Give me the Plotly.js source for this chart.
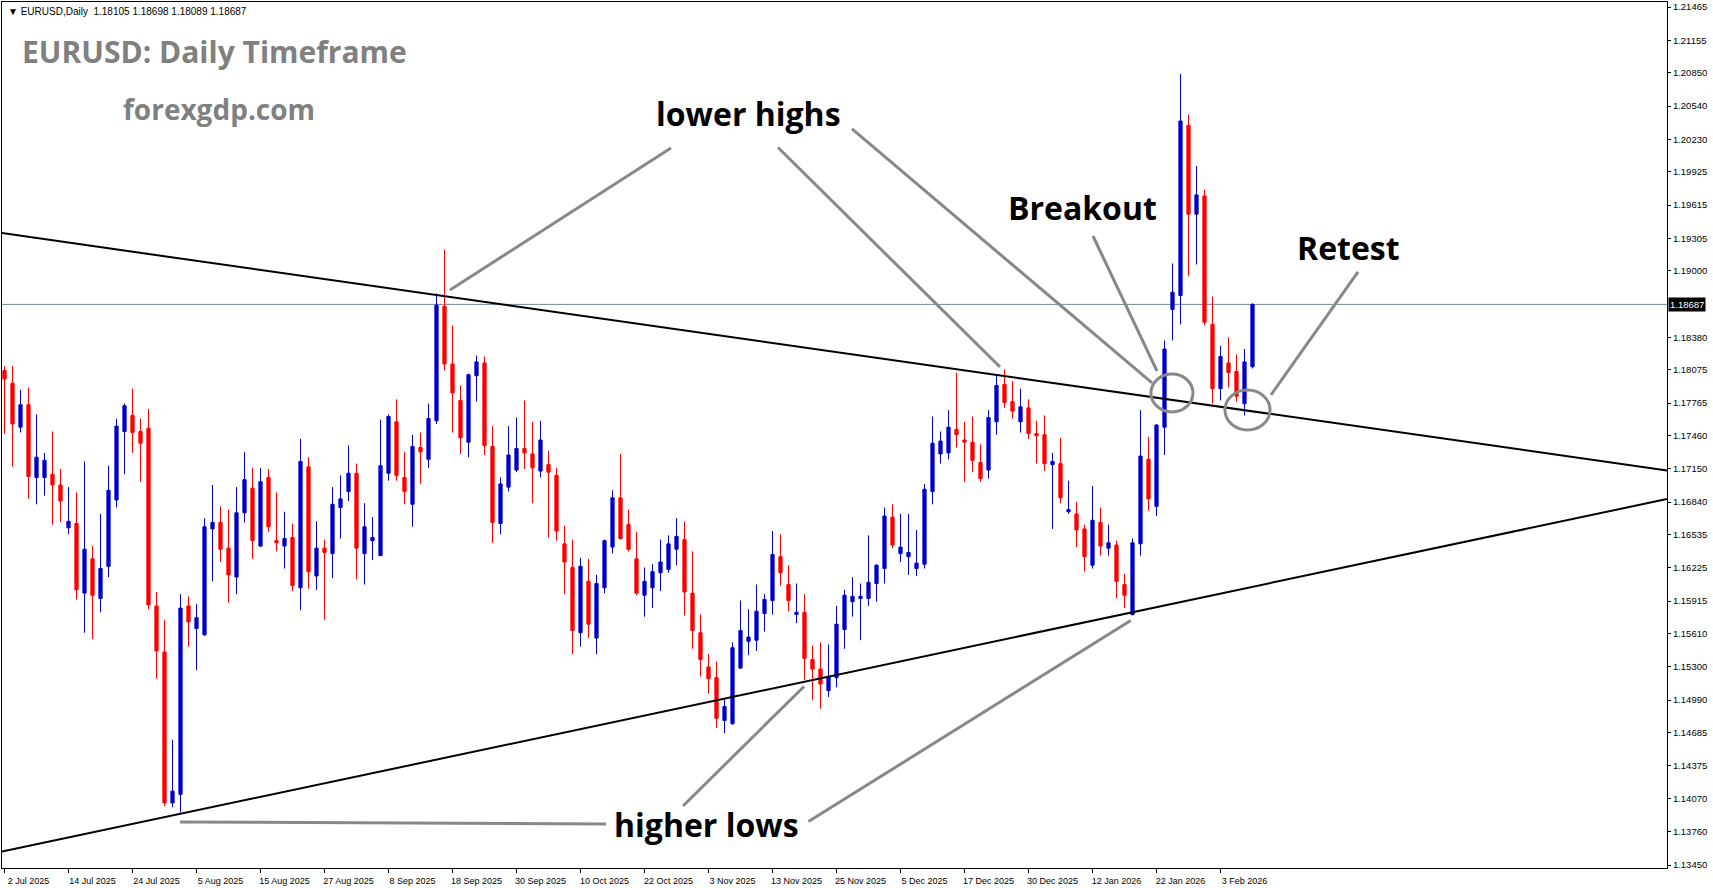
<!DOCTYPE html>
<html>
<head>
<meta charset="utf-8">
<script src="https://cdn.plot.ly/plotly-3.0.1.min.js"></script>
<style>
  html, body { margin: 0; padding: 0; background: #ffffff; }
  #chart { width: 1713px; height: 888px; }
</style>
</head>
<body>
<div id="chart"></div>
<script>
// ---- Data (EURUSD daily candles) ----
const openP = [
1.1807,1.1795,1.1754,1.1775,1.1707,1.1707,1.1710,1.1700,1.1660,1.1664,
1.1599,1.1631,1.1594,1.1624,1.1686,1.1750,1.1765,1.1750,1.1753,1.1587,
1.1544,1.1403,1.1411,1.1587,1.1566,1.1560,1.1659,1.1665,1.1641,1.1614,
1.1674,1.1697,1.1643,1.1707,1.1648,1.1643,1.1651,1.1604,1.1717,1.1615,
1.1641,1.1636,1.1679,1.1694,1.1711,1.1636,1.1648,1.1634,1.1711,1.1759,
1.1707,1.1682,1.1735,1.1724,1.1760,1.1867,1.1813,1.1779,1.1740,1.1802,
1.1814,1.1736,1.1664,1.1698,1.1714,1.1734,1.1729,1.1713,1.1719,1.1709,
1.1645,1.1623,1.1562,1.1610,1.1557,1.1604,1.1642,1.1688,1.1663,1.1631,
1.1597,1.1604,1.1618,1.1621,1.1640,1.1649,1.1599,1.1562,1.1530,1.1520,
1.1480,1.1477,1.1529,1.1554,1.1555,1.1580,1.1592,1.1633,1.1607,1.1579,
1.1581,1.1537,1.1528,1.1508,1.1520,1.1565,1.1591,1.1594,1.1594,1.1608,
1.1622,1.1670,1.1636,1.1633,1.1622,1.1626,1.1694,1.1729,1.1730,1.1752,
1.1742,1.1740,1.1721,1.1714,1.1759,1.1794,1.1778,1.1759,1.1772,1.1748,
1.1747,1.1719,1.1720,1.1675,1.1673,1.1659,1.1625,1.1665,1.1641,1.1644,
1.1607,1.1579,1.1645,1.1724,1.1680,1.1754,1.1864,1.1877,1.2036,1.1953,
1.1970,1.1850,1.1790,1.1814,1.1806,1.1776,1.18105];
const highP = [
1.1811,1.1811,1.1789,1.1791,1.1766,1.1730,1.1750,1.1715,1.1698,1.1693,
1.1722,1.1643,1.1673,1.1718,1.1762,1.1776,1.1790,1.1762,1.1771,1.1600,
1.1574,1.1462,1.1598,1.1596,1.1589,1.1669,1.1700,1.1680,1.1677,1.1698,
1.1731,1.1716,1.1716,1.1715,1.1693,1.1675,1.1664,1.1743,1.1726,1.1666,
1.1649,1.1698,1.1709,1.1737,1.1720,1.1683,1.1670,1.1761,1.1766,1.1780,
1.1731,1.1747,1.1749,1.1776,1.1879,1.1920,1.1849,1.1793,1.1804,1.1821,
1.1820,1.1755,1.1707,1.1755,1.1763,1.1779,1.1759,1.1760,1.1732,1.1716,
1.1662,1.1649,1.1632,1.1631,1.1616,1.1649,1.1695,1.1729,1.1677,1.1656,
1.1623,1.1626,1.1649,1.1653,1.1669,1.1666,1.1638,1.1579,1.1542,1.1535,
1.1500,1.1553,1.1592,1.1584,1.1607,1.1598,1.1657,1.1654,1.1625,1.1608,
1.1598,1.1550,1.1553,1.1551,1.1587,1.1602,1.1614,1.1608,1.1653,1.1626,
1.1679,1.1682,1.1673,1.1673,1.1658,1.1701,1.1764,1.1750,1.1770,1.1805,
1.1759,1.1764,1.1738,1.1770,1.1803,1.1808,1.1797,1.1790,1.1780,1.1760,
1.1765,1.1730,1.1744,1.1704,1.1684,1.1663,1.1699,1.1679,1.1663,1.1648,
1.1617,1.1650,1.1770,1.1745,1.1757,1.1835,1.1907,1.2084,1.2046,1.1998,
1.1976,1.1876,1.1830,1.1838,1.1822,1.1827,1.18698];
const lowP = [
1.1748,1.1717,1.1749,1.1687,1.1682,1.1690,1.1663,1.1665,1.1654,1.1593,
1.1562,1.1556,1.1581,1.1614,1.1679,1.1710,1.1730,1.1703,1.1584,1.1519,
1.1400,1.1399,1.1394,1.1549,1.1527,1.1559,1.1610,1.1628,1.1590,1.1598,
1.1665,1.1631,1.1642,1.1656,1.1638,1.1622,1.1601,1.1583,1.1603,1.1602,
1.1574,1.1613,1.1650,1.1685,1.1612,1.1607,1.1630,1.1634,1.1704,1.1704,
1.1682,1.1661,1.1701,1.1716,1.1757,1.1807,1.1749,1.1729,1.1726,1.1778,
1.1728,1.1646,1.1654,1.1694,1.1712,1.1715,1.1683,1.1707,1.1651,1.1648,
1.1598,1.1542,1.1549,1.1557,1.1542,1.1599,1.1636,1.1649,1.1638,1.1597,
1.1577,1.1585,1.1601,1.1618,1.1625,1.1578,1.1547,1.1521,1.1505,1.1473,
1.1468,1.1476,1.1528,1.1541,1.1545,1.1563,1.1579,1.1606,1.1582,1.1571,
1.1518,1.1499,1.1491,1.1502,1.1511,1.1547,1.1577,1.1555,1.1587,1.1591,
1.1608,1.1641,1.1628,1.1616,1.1615,1.1622,1.1682,1.1720,1.1724,1.1735,
1.1703,1.1712,1.1703,1.1706,1.1747,1.1772,1.1762,1.1749,1.1743,1.1720,
1.1713,1.1659,1.1683,1.1673,1.1642,1.1619,1.1622,1.1634,1.1634,1.1594,
1.1585,1.1578,1.1634,1.1676,1.1671,1.1728,1.1835,1.1850,1.1895,1.1906,
1.1849,1.1776,1.1779,1.1791,1.1778,1.1765,1.18089];
const closeP = [
1.1799,1.1757,1.1775,1.1708,1.1726,1.1723,1.1700,1.1685,1.1666,1.1602,
1.1640,1.1597,1.1622,1.1695,1.1755,1.1774,1.1749,1.1739,1.1588,1.1545,
1.1403,1.1414,1.1585,1.1572,1.1576,1.1661,1.1665,1.1640,1.1616,1.1674,
1.1705,1.1648,1.1703,1.1661,1.1646,1.1650,1.1606,1.1722,1.1619,1.1641,
1.1637,1.1682,1.1687,1.1711,1.1641,1.1661,1.1651,1.1718,1.1764,1.1709,
1.1694,1.1736,1.1731,1.1762,1.1868,1.1813,1.1786,1.1744,1.1803,1.1815,
1.1737,1.1665,1.1701,1.1728,1.1734,1.1730,1.1716,1.1742,1.1712,1.1657,
1.1628,1.1564,1.1624,1.1570,1.1608,1.1648,1.1688,1.1650,1.1640,1.1599,
1.1610,1.1619,1.1628,1.1645,1.1652,1.1600,1.1564,1.1537,1.1519,1.1482,
1.1493,1.1548,1.1564,1.1558,1.1582,1.1593,1.1635,1.1618,1.1592,1.1581,
1.1538,1.1528,1.1514,1.1521,1.1570,1.1597,1.1596,1.1596,1.1609,1.1625,
1.1671,1.1644,1.1642,1.1637,1.1627,1.1696,1.1739,1.1741,1.1754,1.1747,
1.1740,1.1723,1.1706,1.1763,1.1793,1.1777,1.1769,1.1773,1.1748,1.1746,
1.1720,1.1722,1.1688,1.1677,1.1658,1.1633,1.1667,1.1643,1.1646,1.1610,
1.1597,1.1646,1.1727,1.1687,1.1756,1.1827,1.1880,1.2040,1.1953,1.1971,
1.1852,1.1790,1.1820,1.1805,1.1783,1.1815,1.18687];

// bar index (one per trading day, 2 Jul 2025 = 0)
const barIndex = openP.map((_, i) => i);

// date labels on the time axis (every 8 bars)
const dateTickIndex = [0,8,16,24,32,40,48,56,64,72,80,88,96,104,112,120,128,136,144,152];
const dateTickLabels = ['2 Jul 2025','14 Jul 2025','24 Jul 2025','5 Aug 2025','15 Aug 2025',
  '27 Aug 2025','8 Sep 2025','18 Sep 2025','30 Sep 2025','10 Oct 2025','22 Oct 2025',
  '3 Nov 2025','13 Nov 2025','25 Nov 2025','5 Dec 2025','17 Dec 2025','30 Dec 2025',
  '12 Jan 2026','22 Jan 2026','3 Feb 2026'];

// price scale labels
const priceTicks = [1.21465,1.21155,1.20850,1.20540,1.20230,1.19925,1.19615,1.19305,1.19000,
  1.18380,1.18075,1.17765,1.17460,1.17150,1.16840,1.16535,1.16225,1.15915,1.15610,1.15300,
  1.14990,1.14685,1.14375,1.14070,1.13760,1.13450];

const lastPrice = 1.18687;

// trendlines (bar index, price)
const upperTrendX = [-0.3125, 207.8125];
const upperTrendY = [1.19353, 1.17136];
const lowerTrendX = [-0.3125, 207.8125];
const lowerTrendY = [1.13575, 1.16869];

// grey pointer lines [x0, y0, x1, y1] in bar index / price
const pointerLines = [
  [83.31, 1.20148, 55.69, 1.18822],
  [96.69, 1.20153, 124.44, 1.18102],
  [105.94, 1.20326, 143.44, 1.17953],
  [136.06, 1.19326, 144.06, 1.18065],
  [169.19, 1.18990, 158.31, 1.17841],
  [21.94, 1.13852, 75.19, 1.13833],
  [84.81, 1.14001, 99.94, 1.15118],
  [100.50, 1.13856, 140.78, 1.15734]
];
// grey circles [x0, y0, x1, y1]
const circles = [
  [143.31, 1.17682, 148.56, 1.18037],
  [152.56, 1.17514, 158.19, 1.17888]
];
// text labels
const labelTexts = ['lower highs', 'Breakout', 'Retest', 'higher lows'];
const labelX = [93.06, 134.69, 168.06, 87.8];
const labelY = [1.20466, 1.19588, 1.19214, 1.13833];

// ---- Build chart ----
const trace = {
  type: 'candlestick',
  x: barIndex,
  open: openP, high: highP, low: lowP, close: closeP,
  increasing: { line: { color: '#0000CD', width: 1 }, fillcolor: '#0000CD' },
  decreasing: { line: { color: '#FF0000', width: 1 }, fillcolor: '#FF0000' },
  whiskerwidth: 0,
  hoverinfo: 'skip',
  showlegend: false
};

const shapes = [];
shapes.push({ type: 'line', xref: 'paper', yref: 'y', x0: 0, x1: 1, y0: lastPrice, y1: lastPrice,
  line: { color: '#778899', width: 1 }, layer: 'below' });
shapes.push({ type: 'line', xref: 'x', yref: 'y', x0: upperTrendX[0], y0: upperTrendY[0],
  x1: upperTrendX[1], y1: upperTrendY[1], line: { color: '#000000', width: 2 }, layer: 'above' });
shapes.push({ type: 'line', xref: 'x', yref: 'y', x0: lowerTrendX[0], y0: lowerTrendY[0],
  x1: lowerTrendX[1], y1: lowerTrendY[1], line: { color: '#000000', width: 2 }, layer: 'above' });
pointerLines.forEach(p => shapes.push({ type: 'line', xref: 'x', yref: 'y',
  x0: p[0], y0: p[1], x1: p[2], y1: p[3], line: { color: '#888888', width: 3 }, layer: 'above' }));
circles.forEach(c => shapes.push({ type: 'circle', xref: 'x', yref: 'y',
  x0: c[0], y0: c[1], x1: c[2], y1: c[3], line: { color: '#888888', width: 3 }, layer: 'above' }));

const annotations = [];
annotations.push({ xref: 'paper', yref: 'paper', x: 0.0024, y: 0.9896, xanchor: 'left', yanchor: 'middle',
  text: '\u25BC EURUSD,Daily  1.18105 1.18698 1.18089 1.18687', showarrow: false,
  font: { family: 'Liberation Sans, Arial, sans-serif', size: 10, color: '#000000' } });
annotations.push({ xref: 'paper', yref: 'paper', x: 0.0108, y: 0.9423, xanchor: 'left', yanchor: 'middle',
  text: 'EURUSD: Daily Timeframe', showarrow: false,
  font: { family: 'Open Sans, sans-serif', size: 30, color: '#808080', weight: 700 } });
annotations.push({ xref: 'paper', yref: 'paper', x: 0.0712, y: 0.8764, xanchor: 'left', yanchor: 'middle',
  text: 'forexgdp.com', showarrow: false,
  font: { family: 'Open Sans, sans-serif', size: 28, color: '#808080', weight: 700 } });
labelTexts.forEach((t, k) => annotations.push({ xref: 'x', yref: 'y', x: labelX[k], y: labelY[k],
  xanchor: 'center', yanchor: 'middle', text: t, showarrow: false,
  font: { family: 'Open Sans, sans-serif', size: 32, color: '#000000', weight: 700 } }));
annotations.push({ xref: 'paper', yref: 'y', x: 1, y: lastPrice, xanchor: 'left', yanchor: 'middle',
  xshift: 1, text: lastPrice.toFixed(5), showarrow: false, bgcolor: '#000000', borderpad: 1,
  font: { family: 'Liberation Sans, Arial, sans-serif', size: 9.5, color: '#ffffff' } });

const layout = {
  width: 1713, height: 888,
  margin: { l: 2, r: 46, t: 2, b: 20, pad: 0 },
  paper_bgcolor: '#ffffff', plot_bgcolor: '#ffffff',
  showlegend: false,
  boxgap: 0.42,
  xaxis: {
    type: 'linear',
    range: [-0.3125, 207.8125],
    rangeslider: { visible: false },
    showgrid: false, zeroline: false,
    showline: true, linecolor: '#000000', linewidth: 1, mirror: true,
    tickmode: 'array', tickvals: dateTickIndex, ticktext: dateTickLabels,
    ticks: 'outside', ticklen: 4, tickcolor: '#000000', tickwidth: 1,
    ticklabelshift: 24,
    tickfont: { family: 'Liberation Sans, Arial, sans-serif', size: 9, color: '#000000' },
    fixedrange: true
  },
  yaxis: {
    side: 'right',
    range: [1.13422, 1.21512],
    showgrid: false, zeroline: false,
    showline: true, linecolor: '#000000', linewidth: 1, mirror: true,
    tickmode: 'array', tickvals: priceTicks, ticktext: priceTicks.map(v => v.toFixed(5)),
    ticks: 'outside', ticklen: 3, tickcolor: '#000000', tickwidth: 1,
    tickfont: { family: 'Liberation Sans, Arial, sans-serif', size: 9.5, color: '#000000' },
    fixedrange: true
  },
  shapes: shapes,
  annotations: annotations
};

Plotly.newPlot('chart', [trace], layout, { displayModeBar: false, staticPlot: true });
</script>
</body>
</html>
